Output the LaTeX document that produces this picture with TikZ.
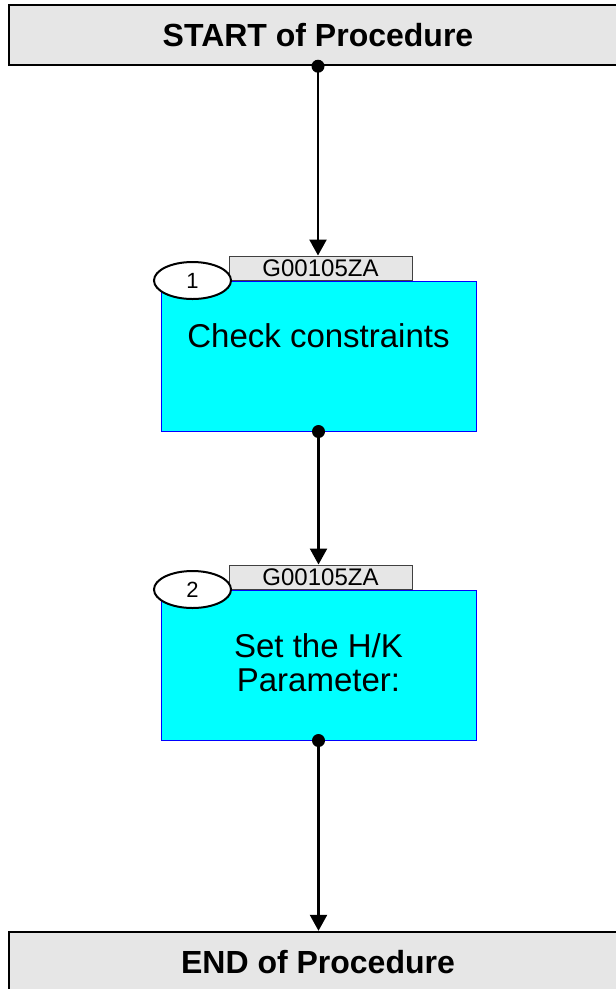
\documentclass[tikz,border=0pt]{standalone}
\usepackage{fontspec}
\setmainfont{Liberation Sans}
\usetikzlibrary{positioning,arrows.meta,shapes.geometric}
\definecolor{termgray}{RGB}{230,230,230}
\definecolor{stepcyan}{RGB}{0,255,255}
\definecolor{stepblue}{RGB}{0,0,255}

\begin{document}
\begin{tikzpicture}[
  x=1pt, y=-1pt,
  >={Triangle[length=16pt,width=17pt]},
  term/.style={rectangle, draw=black, line width=2.4pt, fill=termgray, minimum width=618pt, minimum height=60pt, inner sep=0pt, font=\bfseries\fontsize{32}{36}\selectfont},
  stepbox/.style={rectangle, draw=stepblue, line width=1pt, fill=stepcyan, minimum width=315pt, minimum height=150pt, inner sep=0pt},
  steptext/.style={align=center, inner sep=0pt, text height=24pt, font=\fontsize{33}{34}\selectfont},
  tag/.style={rectangle, draw=black!75, line width=1pt, fill=termgray, minimum width=183pt, minimum height=24pt, inner sep=0pt, font=\fontsize{24}{24}\selectfont},
  num/.style={ellipse, draw=black, line width=2pt, fill=white, minimum width=77pt, minimum height=37pt, inner sep=0pt, font=\fontsize{22}{24}\selectfont},
  dot/.style={circle, fill=black, minimum size=13pt, inner sep=0pt},
  arr/.style={->, line width=2.4pt},
]
\useasboundingbox (0,0) rectangle (616,989);

% === Terminals ===
\node[term] (start) at (318,35) {START of Procedure};
\node[term] (end) at (318,962) {END of Procedure};

% === Step 1 ===
\node[stepbox] (chk) at (318.5,356) {};
\node[tag, anchor=south] (tag1) at ([xshift=2pt]chk.north) {G00105ZA};
\node[num] (n1) at ([xshift=32pt]chk.north west) {1};
\node[steptext, below=43pt of chk.north] (chktxt) {Check constraints};

% === Step 2 ===
\node[stepbox] (par) at (318.5,665) {};
\node[tag, anchor=south] (tag2) at ([xshift=2pt]par.north) {G00105ZA};
\node[num] (n2) at ([xshift=32pt]par.north west) {2};
\node[steptext, below=78pt of par.north] (partxt) {Set the H/K\\Parameter:};

% === Flow arrows ===
\draw[arr] (start.south) -- (start.south |- tag1.north);
\draw[arr] (chk.south) -- (chk.south |- tag2.north);
\draw[arr] (par.south) -- (par.south |- end.north);

% connector dots
\node[dot] (d0) at (start.south) {};
\node[dot] (d1) at (chk.south) {};
\node[dot] (d2) at (par.south) {};

\end{tikzpicture}
\end{document}
